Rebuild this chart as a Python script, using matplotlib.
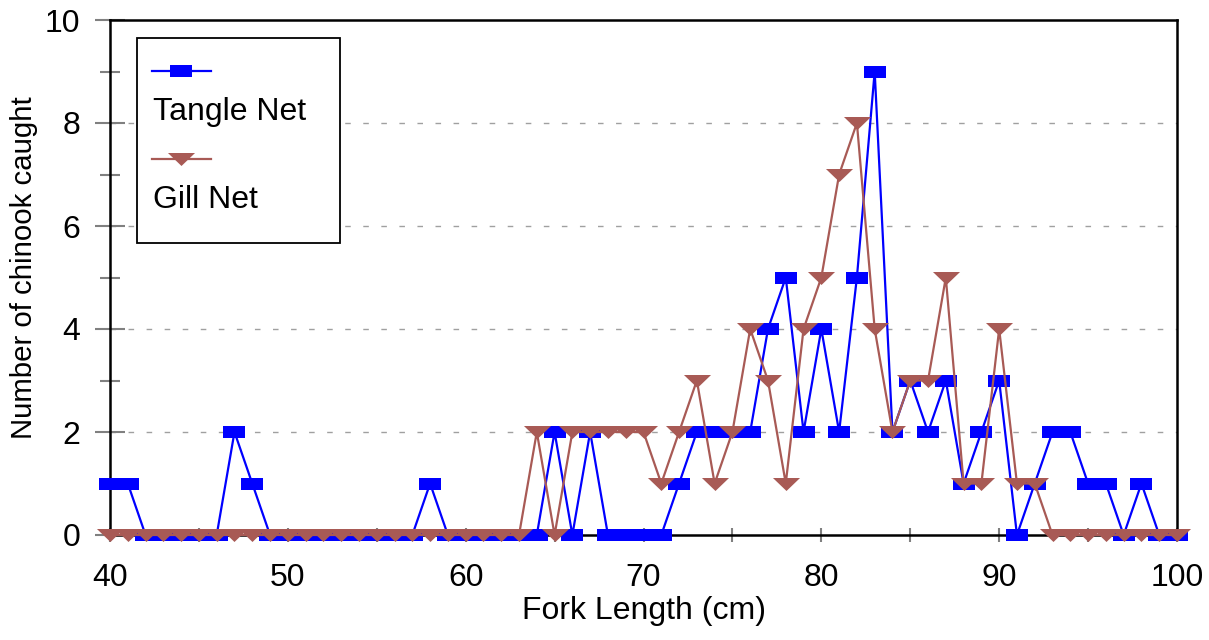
import matplotlib
matplotlib.use("Agg")
import matplotlib.pyplot as plt
from matplotlib.patches import Rectangle
from matplotlib.lines import Line2D
from matplotlib.ticker import MultipleLocator

plt.rcParams['font.family'] = ['Liberation Sans', 'DejaVu Sans']

# fork length (cm), one point per cm
fork_length = list(range(40, 101))

# chinook caught per length
tangle_net = [1, 1, 0, 0, 0, 0, 0, 2, 1, 0,   # 40-49
              0, 0, 0, 0, 0, 0, 0, 0, 1, 0,   # 50-59
              0, 0, 0, 0, 0, 2, 0, 2, 0, 0,   # 60-69
              0, 0, 1, 2, 2, 2, 2, 4, 5, 2,   # 70-79
              4, 2, 5, 9, 2, 3, 2, 3, 1, 2,   # 80-89
              3, 0, 1, 2, 2, 1, 1, 0, 1, 0,   # 90-99
              0]                              # 100
gill_net = [0, 0, 0, 0, 0, 0, 0, 0, 0, 0,
            0, 0, 0, 0, 0, 0, 0, 0, 0, 0,
            0, 0, 0, 0, 2, 0, 2, 2, 2, 2,
            2, 1, 2, 3, 1, 2, 4, 3, 1, 4,
            5, 7, 8, 4, 2, 3, 3, 5, 1, 1,
            4, 1, 1, 0, 0, 0, 0, 0, 0, 0,
            0]

blue = '#0000ff'
brown = '#a85a55'

# wide markers like the original (wider than tall)
rect_mk = [(-1, -0.57), (1, -0.57), (1, 0.57), (-1, 0.57), (-1, -0.57)]
tri_mk = [(-1, 0.48), (1, 0.48), (0, -0.48), (-1, 0.48)]

fig = plt.figure(figsize=(12.09, 6.4), dpi=100)
ax = fig.add_axes([110/1209, 1-535/640, 1067/1209, 515/640])

ax.plot(fork_length, tangle_net, color=blue, lw=1.6, marker=rect_mk,
        markersize=15.2, markeredgewidth=0, zorder=3, clip_on=False)
ax.plot(fork_length, gill_net, color=brown, lw=1.6, marker=tri_mk,
        markersize=19.5, markeredgewidth=0, zorder=4, clip_on=False)

ax.set_xlim(40, 100)
ax.set_ylim(0, 10)
ax.xaxis.set_major_locator(MultipleLocator(10))
ax.xaxis.set_minor_locator(MultipleLocator(5))
ax.yaxis.set_major_locator(MultipleLocator(2))
ax.yaxis.set_minor_locator(MultipleLocator(1))

for g in [2, 4, 6, 8]:
    ax.axhline(g, color='#a0a0a0', lw=1.0, ls=(0, (4, 9)), zorder=1)

ax.tick_params(axis='both', which='both', colors='#808080', labelcolor='black',
               labelsize=23, width=1.5)
ax.tick_params(axis='y', which='major', direction='inout', length=21, pad=11)
ax.tick_params(axis='y', which='minor', direction='inout', length=14)
ax.tick_params(axis='x', which='both', direction='inout', length=10, pad=15)

for s in ax.spines.values():
    s.set_color('black')
    s.set_linewidth(1.8)

fig.text(24/1209, 1-268/640, 'Number of chinook caught', rotation=90,
         ha='center', va='center', fontsize=21.2)
ax.set_xlabel('Fork Length (cm)', fontsize=23, labelpad=2)

# legend: marker line above the text, as in the original
ax.add_patch(Rectangle((0.0253, 0.567), 0.1903, 0.398, transform=ax.transAxes,
                       fc='white', ec='black', lw=1.3, zorder=6, clip_on=False))
ax.add_line(Line2D([0.0394, 0.0947], [0.901, 0.901], transform=ax.transAxes,
                   color=blue, lw=1.6, zorder=7))
ax.add_line(Line2D([0.0665], [0.901], transform=ax.transAxes, color=blue,
                   lw=0, marker=rect_mk, markersize=15.2, markeredgewidth=0, zorder=7))
ax.add_line(Line2D([0.0394, 0.0947], [0.730, 0.730], transform=ax.transAxes,
                   color=brown, lw=1.6, zorder=7))
ax.add_line(Line2D([0.0665], [0.730], transform=ax.transAxes, color=brown,
                   lw=0, marker=tri_mk, markersize=19.5, markeredgewidth=0, zorder=7))
ax.text(0.0403, 0.806, 'Tangle Net', transform=ax.transAxes, fontsize=23,
        va='baseline', ha='left', zorder=7)
ax.text(0.0403, 0.635, 'Gill Net', transform=ax.transAxes, fontsize=23,
        va='baseline', ha='left', zorder=7)

fig.savefig('out.png', dpi=100)
